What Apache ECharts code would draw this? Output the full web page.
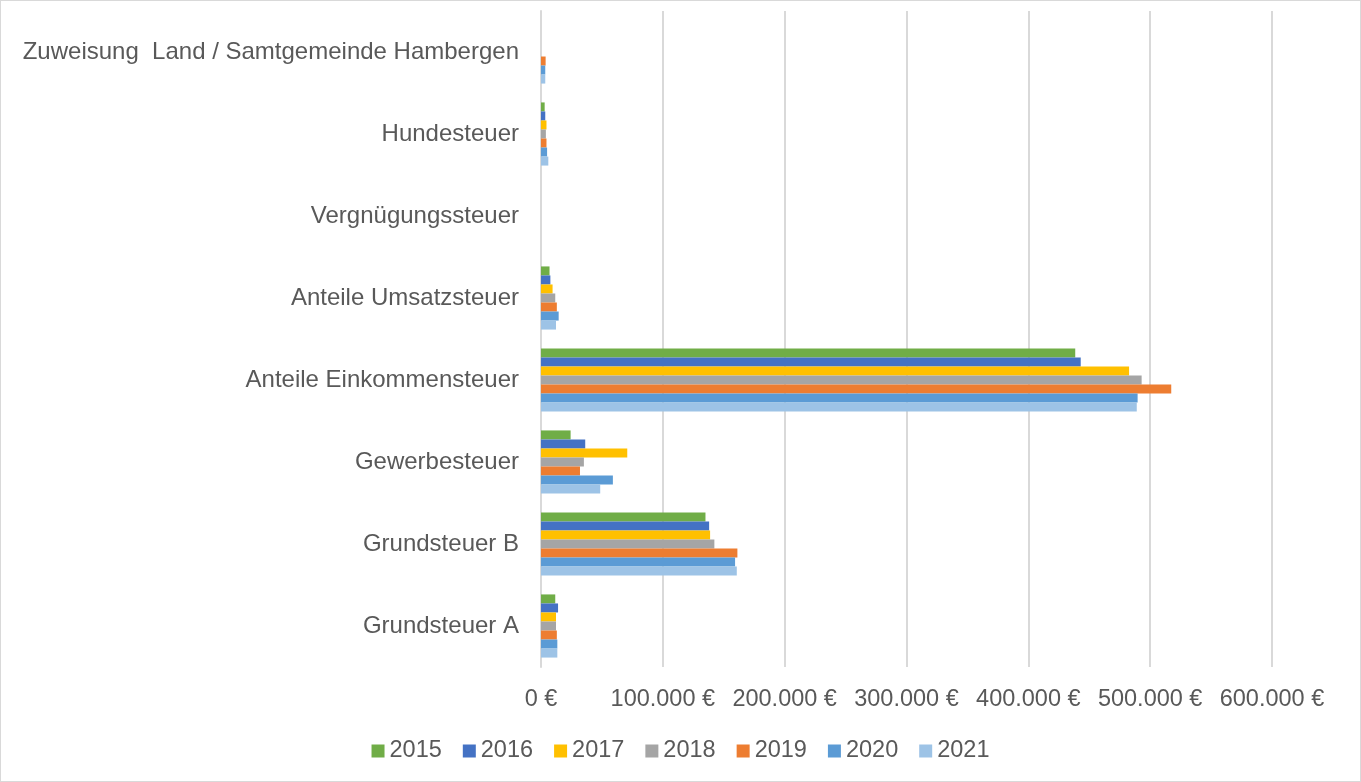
<!DOCTYPE html>
<html><head><meta charset="utf-8">
<script src="https://cdn.jsdelivr.net/npm/echarts@6/dist/echarts.min.js"></script>
<style>html,body{margin:0;padding:0;background:#fff}#c{width:1361px;height:782px;box-sizing:border-box;border:1px solid #d9d9d9}</style>
</head><body><div id="c"></div>
<script>
const categories = ["Grundsteuer A","Grundsteuer B","Gewerbesteuer","Anteile Einkommensteuer","Anteile Umsatzsteuer","Vergnügungssteuer","Hundesteuer","Zuweisung  Land / Samtgemeinde Hambergen"];
const years = ["2015","2016","2017","2018","2019","2020","2021"];
const colors = ["#70ad47","#4472c4","#ffc000","#a5a5a5","#ed7d31","#5b9bd5","#9dc3e6"];
const v2015 = [11700,135000,24300,438500,7000,0,3000,0];
const v2016 = [14000,138000,36300,443000,7700,0,3500,0];
const v2017 = [12300,138800,70800,482700,9500,0,4500,0];
const v2018 = [12300,142300,35200,493000,11700,0,4000,0];
const v2019 = [13000,161200,32000,517300,13000,0,4500,3800];
const v2020 = [13400,159300,59000,489700,14500,0,5000,3500];
const v2021 = [13400,160700,48600,489000,12300,0,6000,3500];
const values = [v2015,v2016,v2017,v2018,v2019,v2020,v2021];
const fmt = v => (v===0?'0':String(v).replace(/\B(?=(\d{3})+(?!\d))/g,'.')) + ' €';
const font = 'Liberation Sans, Arial, sans-serif';
const chart = echarts.init(document.getElementById('c'));
chart.setOption({
  animation:false,
  color: colors,
  textStyle:{fontFamily:font,color:'#595959'},
  grid:{left:540,right:88,top:10,bottom:114,containLabel:false},
  legend:{top:733,left:'center',itemWidth:13,itemHeight:13,itemGap:21,icon:'rect',
    textStyle:{fontSize:23.5,color:'#595959',fontFamily:font},data:years},
  xAxis:{type:'value',min:0,max:600000,interval:100000,
    axisLabel:{formatter:fmt,fontSize:23.5,color:'#595959',margin:21,fontFamily:font},
    splitLine:{lineStyle:{color:'#d9d9d9',width:2}},axisLine:{show:false},axisTick:{show:false}},
  yAxis:{type:'category',data:categories,
    axisLine:{show:true,lineStyle:{color:'#d9d9d9',width:2}},axisTick:{show:false},
    axisLabel:{fontSize:24,color:'#595959',margin:22,fontFamily:font,padding:[5,0,0,0]}},
  series: years.map((y,i)=>({name:y,type:'bar',data:values[i],barGap:'0%',barCategoryGap:'23%'}))
});
</script></body></html>
